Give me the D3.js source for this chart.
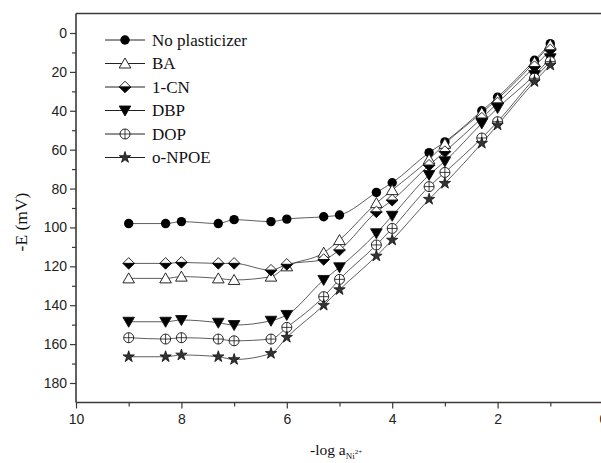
<!DOCTYPE html>
<html><head><meta charset="utf-8">
<script src="https://cdn.jsdelivr.net/npm/d3@7"></script>
<style>body{margin:0;background:#fff}svg{display:block}</style>
</head><body>
<svg id="c" width="601" height="463"></svg>
<script>
const xValues = [9, 8.3, 8, 7.3, 7, 6.3, 6, 5.3, 5, 4.3, 4, 3.3, 3, 2.3, 2, 1.3, 1];
const noPlasticizer = [98, 98, 97, 98, 96, 97, 95.7, 94.5, 93.6, 82, 77, 61.5, 56, 40, 33, 14, 5.5];
const baValues = [126.2, 126.2, 125.3, 126.2, 127, 125.3, 120, 113, 106.5, 87.5, 80.8, 65, 57, 41, 34, 15, 6];
const cnValues = [118.5, 118.5, 118, 118.5, 118.5, 122, 119, 116.5, 111.6, 92, 86, 68, 61, 43.8, 36, 17.3, 8.7];
const dbpValues = [148.5, 148.5, 147.6, 149, 150.2, 148, 145, 127, 120.5, 103, 94, 73, 66, 46.5, 38.6, 21.6, 13];
const dopValues = [156.7, 157.4, 156.7, 157.4, 158.3, 157.4, 151.4, 135.6, 126.7, 109, 100.5, 79, 71.7, 54, 45.6, 23.3, 14.7];
const npoeValues = [166.5, 166.5, 165.6, 166.5, 167.9, 164.8, 156.5, 140, 132, 114.7, 106.5, 85.5, 77.3, 56.7, 47.3, 25, 16.5];
const seriesNames = ["No plasticizer", "BA", "1-CN", "DBP", "DOP", "o-NPOE"];
const seriesSymbols = ["circle", "triUp", "halfDiamond", "triDown", "circlePlus", "star"];
const xTickValues = [10, 8, 6, 4, 2, 0];
const xMinorTicks = [9, 7, 5, 3, 1];
const yTickValues = [0, 20, 40, 60, 80, 100, 120, 140, 160, 180];
const yMinorTicks = [10, 30, 50, 70, 90, 110, 130, 150, 170];

const allSeries = [noPlasticizer, baValues, cnValues, dbpValues, dopValues, npoeValues];

const svg = d3.select("#c");
const x = d3.scaleLinear().domain([10, 0]).range([76, 603]);
const y = d3.scaleLinear().domain([0, 180]).range([33, 383]);
const yTop = y(-10), yBot = y(190);
const axisColor = "#3a3a3a";

svg.append("line").attr("x1", x(10)).attr("x2", x(0)).attr("y1", yTop).attr("y2", yTop)
  .attr("stroke", axisColor).attr("stroke-width", 1.6);

svg.append("g").attr("transform", `translate(0,${yBot})`)
  .call(d3.axisBottom(x).tickValues(xTickValues).tickFormat(d3.format("d")).tickSizeOuter(0).tickSize(6).tickPadding(6));
svg.append("g").attr("transform", `translate(0,${yBot})`)
  .call(d3.axisBottom(x).tickValues(xMinorTicks).tickFormat("").tickSizeOuter(0).tickSize(4));
svg.append("g").attr("transform", `translate(${x(10)},0)`)
  .call(d3.axisLeft(y).tickValues(yTickValues).tickFormat(d3.format("d")).tickSizeOuter(0).tickSize(6).tickPadding(3));
svg.append("g").attr("transform", `translate(${x(10)},0)`)
  .call(d3.axisLeft(y).tickValues(yMinorTicks).tickFormat("").tickSizeOuter(0).tickSize(4));
svg.selectAll(".domain").remove();
svg.append("line").attr("x1", x(10)).attr("x2", x(10)).attr("y1", yTop).attr("y2", yBot)
  .attr("stroke", axisColor).attr("stroke-width", 1.6);
svg.append("line").attr("x1", x(10)).attr("x2", x(0)).attr("y1", yBot).attr("y2", yBot)
  .attr("stroke", axisColor).attr("stroke-width", 1.6);
svg.selectAll(".tick line").attr("stroke", axisColor).attr("stroke-width", 1.2);
svg.selectAll(".tick text").attr("font-family", "'Liberation Sans', Arial, sans-serif")
  .attr("font-size", 14).attr("fill", "#222");

svg.append("text").attr("transform", "translate(27,222) rotate(-90)").attr("text-anchor", "middle")
  .attr("font-family", "'Liberation Serif', 'Times New Roman', serif").attr("font-size", 17.5).attr("fill", "#111")
  .text("-E (mV)");
const xt = svg.append("text").attr("x", 310).attr("y", 455)
  .attr("font-family", "'Liberation Serif', 'Times New Roman', serif").attr("font-size", 15.5).attr("fill", "#111");
xt.append("tspan").text("-log a");
xt.append("tspan").attr("dy", 4).attr("font-size", 9).text("Ni");
xt.append("tspan").attr("dy", -5).attr("font-size", 7).text("2+");

function drawSymbol(g, type, cx, cy) {
  const s = g.append("g").attr("transform", `translate(${cx},${cy})`);
  const st = "#111";
  if (type === "circle") {
    s.append("circle").attr("r", 4.7).attr("fill", "#000");
  } else if (type === "triUp") {
    s.append("path").attr("d", "M0,-5.5L5.8,4.5L-5.8,4.5Z").attr("fill", "#fff").attr("stroke", st).attr("stroke-width", 0.9);
  } else if (type === "triDown") {
    s.append("path").attr("d", "M0,5.5L5.8,-4.5L-5.8,-4.5Z").attr("fill", "#000").attr("stroke", st).attr("stroke-width", 0.9);
  } else if (type === "halfDiamond") {
    s.append("path").attr("d", "M-5.8,0L0,-5.8L5.8,0Z").attr("fill", "#fff").attr("stroke", st).attr("stroke-width", 0.9);
    s.append("path").attr("d", "M-5.8,0L0,5.8L5.8,0Z").attr("fill", "#000").attr("stroke", st).attr("stroke-width", 0.9);
  } else if (type === "circlePlus") {
    s.append("circle").attr("r", 5).attr("fill", "#fff").attr("stroke", st).attr("stroke-width", 0.9);
    s.append("path").attr("d", "M0,-5V5M-5,0H5").attr("stroke", st).attr("stroke-width", 0.8);
  } else if (type === "star") {
    s.append("path").attr("d", d3.symbol(d3.symbolStar, 40)()).attr("fill", "#333").attr("stroke", "#111").attr("stroke-width", 0.8);
  }
}

const line = d3.line().x(d => x(d[0])).y(d => y(d[1])).curve(d3.curveMonotoneX);
allSeries.forEach(vals => {
  const pts = xValues.map((xv, i) => [xv, vals[i]]);
  svg.append("path").attr("d", line(pts)).attr("fill", "none").attr("stroke", "#333").attr("stroke-width", 0.8);
});
const mg = svg.append("g");
allSeries.forEach((vals, k) => {
  xValues.forEach((xv, i) => drawSymbol(mg, seriesSymbols[k], x(xv), y(vals[i])));
});

const lg = svg.append("g");
seriesNames.forEach((name, k) => {
  const ly = 40 + k * 23.5;
  lg.append("line").attr("x1", 105).attr("x2", 145).attr("y1", ly).attr("y2", ly).attr("stroke", "#222").attr("stroke-width", 1);
  drawSymbol(lg, seriesSymbols[k], 125, ly);
  lg.append("text").attr("x", 152).attr("y", ly + 5.5)
    .attr("font-family", "'Liberation Serif', 'Times New Roman', serif").attr("font-size", 17).attr("fill", "#111")
    .text(name);
});
</script>
</body></html>
